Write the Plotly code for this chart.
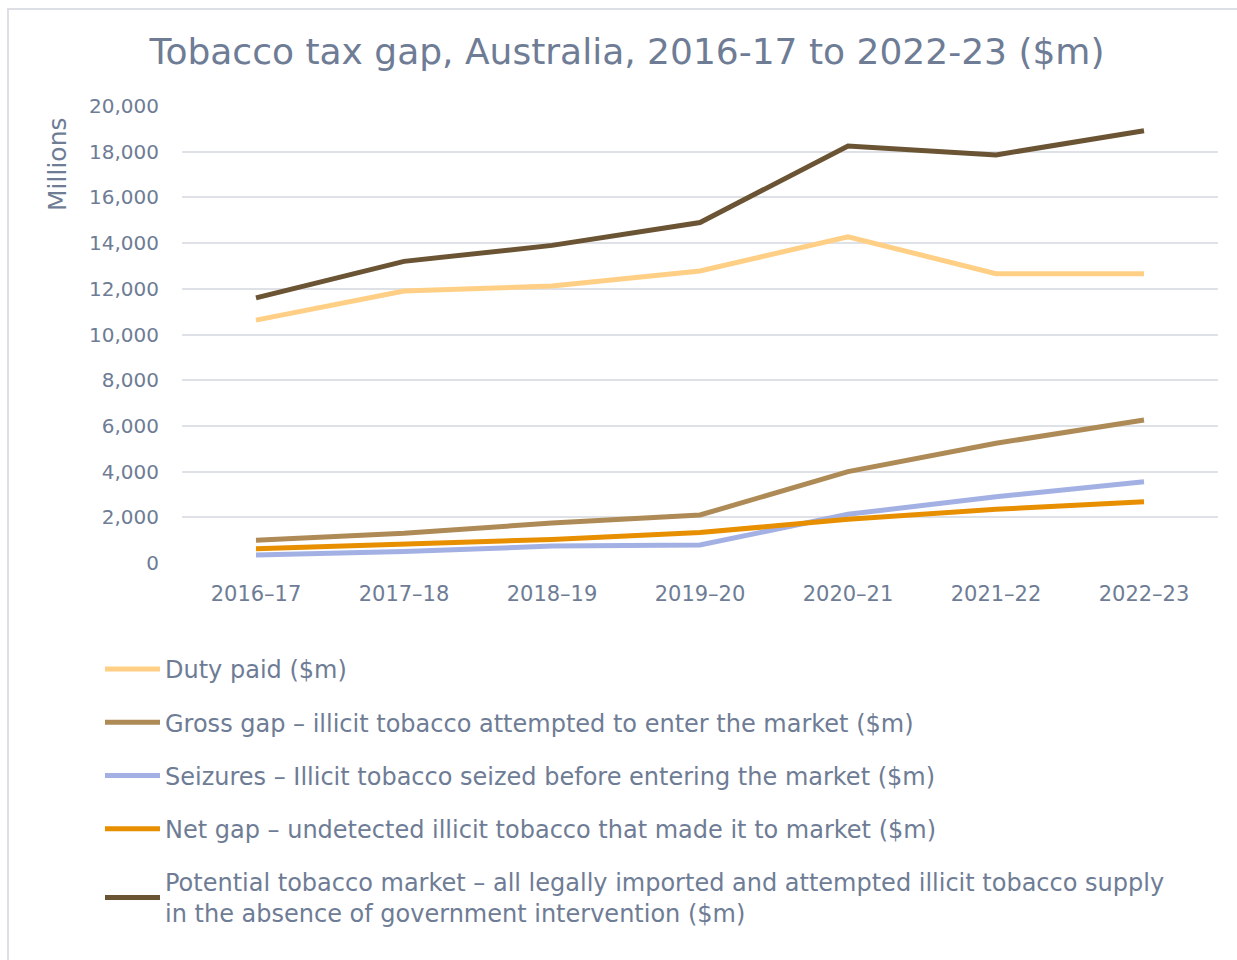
import plotly.graph_objects as go

years = ["2016–17", "2017–18", "2018–19", "2019–20", "2020–21", "2021–22", "2022–23"]
duty_paid = [10630, 11900, 12120, 12780, 14280, 12660, 12660]
gross_gap = [1000, 1300, 1750, 2100, 4000, 5240, 6260]
seizures = [350, 500, 740, 790, 2130, 2900, 3560]
net_gap = [620, 850, 1030, 1330, 1910, 2350, 2680]
potential = [11600, 13200, 13900, 14900, 18250, 17860, 18920]

series_names = [
    "Duty paid ($m)",
    "Gross gap – illicit tobacco attempted to enter the market ($m)",
    "Seizures – Illicit tobacco seized before entering the market ($m)",
    "Net gap – undetected illicit tobacco that made it to market ($m)",
    "Potential tobacco market – all legally imported and attempted illicit tobacco supply<br>in the absence of government intervention ($m)",
]
series_values = [duty_paid, gross_gap, seizures, net_gap, potential]
series_colors = ["#FFCF86", "#AE8B56", "#A3B0E4", "#E88F00", "#6A5434"]

text_color = "#6E7C95"
font_family = "DejaVu Sans, Verdana, sans-serif"

fig = go.Figure()
for i, (name, vals, col) in enumerate(zip(series_names, series_values, series_colors)):
    fig.add_trace(go.Scatter(
        x=years, y=vals, name=name, mode="lines",
        line=dict(color=col, width=5),
        legendgroup=f"g{i}",
    ))

W, H = 1237, 960
ml, mr, mt, mb = 182, 19, 106, 397
pw, ph = W - ml - mr, H - mt - mb

def px_x(p):
    return (p - ml) / pw

def px_y(p):
    return (H - mb - p) / ph

fig.update_layout(
    width=W, height=H,
    margin=dict(l=ml, r=mr, t=mt, b=mb, pad=0),
    paper_bgcolor="white", plot_bgcolor="white",
    font=dict(family=font_family, color=text_color, size=20),
    title=dict(text="Tobacco tax gap, Australia, 2016-17 to 2022-23 ($m)",
               xref="container", x=627 / W, xanchor="center",
               yref="container", y=1 - 51 / H, yanchor="middle",
               font=dict(size=36, color=text_color)),
    xaxis=dict(type="category", range=[-0.5, 6.5], showgrid=False, zeroline=False,
               showline=False, ticks="", tickfont=dict(size=21, color=text_color),
               ticklabelstandoff=16),
    yaxis=dict(range=[0, 20000], dtick=2000, tickformat=",", showgrid=True,
               gridcolor="#DEE1E6", gridwidth=1.5, zeroline=False, showline=False,
               ticks="", tickfont=dict(size=20, color=text_color),
               ticklabelstandoff=22),
    legend=dict(orientation="v", x=px_x(100), xanchor="left", y=px_y(647), yanchor="top",
                font=dict(size=24, color=text_color), tracegroupgap=19,
                traceorder="grouped", bgcolor="rgba(0,0,0,0)", itemwidth=55),
    showlegend=True,
)

fig.add_annotation(text="Millions", textangle=-90, xref="paper", yref="paper",
                   x=px_x(57), y=px_y(164), xanchor="center", yanchor="middle",
                   showarrow=False, font=dict(size=25, color=text_color))

fig.add_shape(type="rect", xref="paper", yref="paper",
              x0=px_x(8), x1=px_x(1240), y0=px_y(975), y1=px_y(9),
              line=dict(color="#DCDFE4", width=2), fillcolor="rgba(0,0,0,0)", layer="below")

fig.write_html("out.html")
